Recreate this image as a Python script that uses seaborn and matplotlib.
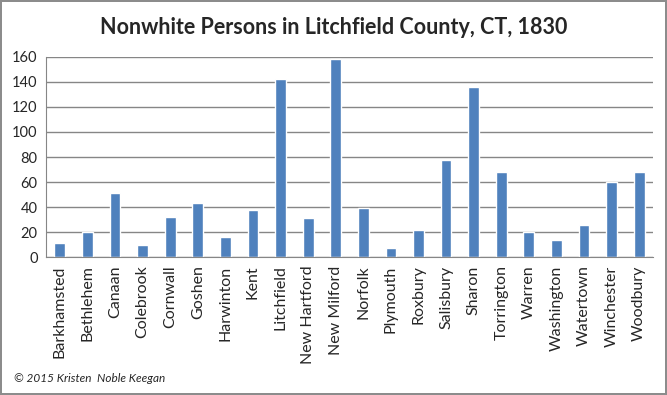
import matplotlib
matplotlib.use('Agg')
import matplotlib.pyplot as plt
import seaborn as sns
import numpy as np
import pandas as pd

towns = ['Barkhamsted', 'Bethlehem', 'Canaan', 'Colebrook', 'Cornwall', 'Goshen',
         'Harwinton', 'Kent', 'Litchfield', 'New Hartford', 'New Milford', 'Norfolk',
         'Plymouth', 'Roxbury', 'Salisbury', 'Sharon', 'Torrington', 'Warren',
         'Washington', 'Watertown', 'Winchester', 'Woodbury']
persons = [11, 20, 51, 10, 32, 43, 16, 38, 142, 31, 158, 39,
           7, 22, 78, 136, 68, 20, 14, 26, 60, 68]
yticks = [0, 20, 40, 60, 80, 100, 120, 140, 160]

df = pd.DataFrame({'town': towns, 'persons': persons})

sns.set_style('white')
plt.rcParams['font.family'] = ['Lato', 'DejaVu Sans']

fig = plt.figure(figsize=(6.67, 3.95), dpi=100, linewidth=1.5, edgecolor='#8c8c8c')
ax = fig.add_axes([0.069, 0.349, 0.91, 0.507])

sns.barplot(data=df, x='town', y='persons', color='#4F81BD', saturation=1,
            width=0.39, ax=ax)

ax.set_ylim(0, 160)
ax.set_xlim(-0.5, len(towns) - 0.5)
ax.set_yticks(yticks)
ax.set_yticklabels([str(t) for t in yticks], fontsize=10.5)
ax.yaxis.grid(True, color='#868686', linewidth=1)
ax.set_axisbelow(True)
ax.set_xlabel('')
ax.set_ylabel('')
ax.set_xticks(range(len(towns)))
ax.set_xticklabels(towns, rotation=90, fontsize=11.5)
ax.set_xticks(np.arange(-0.5, len(towns), 1), minor=True)
ax.tick_params(axis='x', which='major', length=0, pad=6)
ax.tick_params(axis='x', which='minor', length=5, color='#868686', width=1)
ax.tick_params(axis='y', length=4, color='#868686', width=1, pad=2)

for side in ['top', 'right']:
    ax.spines[side].set_visible(False)
ax.spines['left'].set_color('#868686')
ax.spines['bottom'].set_color('#868686')

fig.text(0.5, 0.93, 'Nonwhite Persons in Litchfield County, CT, 1830',
         ha='center', va='center', fontsize=15.5, fontweight='bold')
fig.text(0.021, 0.043, '\u00a9 2015 Kristen  Noble Keegan', fontsize=8.5,
         style='italic', ha='left', va='center')

fig.savefig('out.png', dpi=100, edgecolor=fig.get_edgecolor())
plt.close(fig)
